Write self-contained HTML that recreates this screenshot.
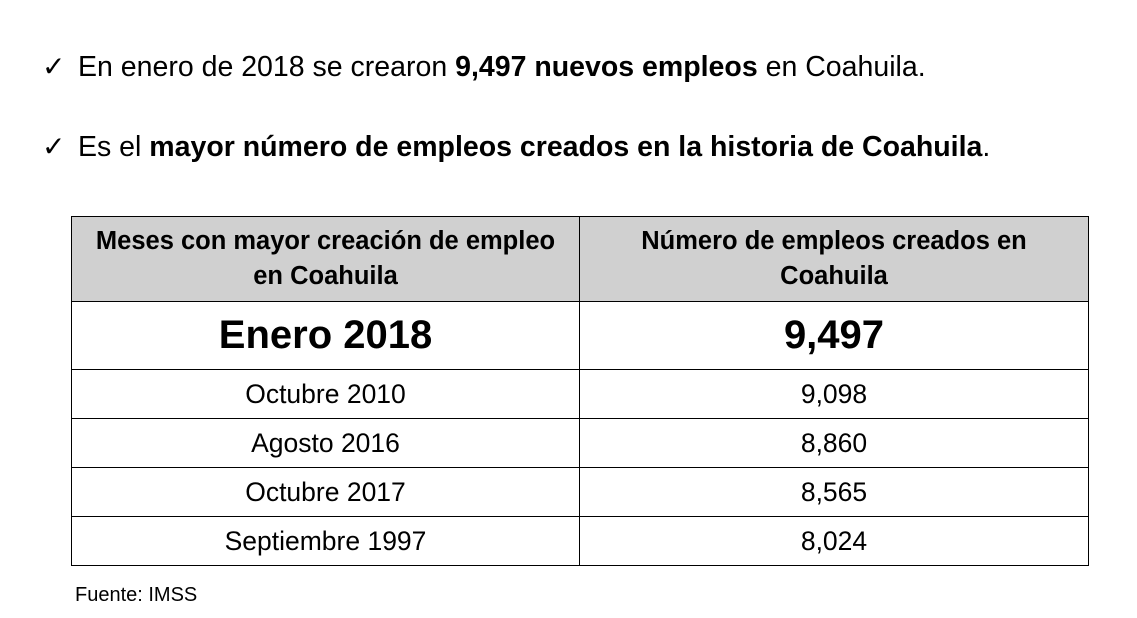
<!DOCTYPE html>
<html><head><meta charset="utf-8"><style>
body{margin:0;width:1137px;height:618px;background:#fff;font-family:"Liberation Sans",sans-serif;color:#000;position:relative;overflow:hidden}
.l{position:absolute;left:42px;font-size:28.5px;white-space:nowrap}
.l span.c{display:inline-block;width:36px;font-size:28px}
table{position:absolute;left:71px;top:216px;width:1018px;border-collapse:collapse}
td{border:1.5px solid #000;text-align:center;padding:0}
tr.h td{background:#d0d0d0;font-weight:bold;height:84px;line-height:35px;font-size:25.5px}
tr.b td{height:67px;font-weight:bold;font-size:40px}
tr.r td{height:48px;font-size:26.5px}
.f{position:absolute;left:75px;top:584px;font-size:20px}
</style></head><body>
<div class="l" style="top:50px"><span class="c">✓</span>En enero de 2018 se crearon <b>9,497 nuevos empleos</b> en Coahuila.</div>
<div class="l" style="top:130px"><span class="c">✓</span>Es el <b>mayor número de empleos creados en la historia de Coahuila</b>.</div>
<table>
<tr class="h"><td style="width:507px">Meses con mayor creación de empleo<br>en Coahuila</td><td>Número de empleos creados en<br>Coahuila</td></tr>
<tr class="b"><td>Enero 2018</td><td>9,497</td></tr>
<tr class="r"><td>Octubre 2010</td><td>9,098</td></tr>
<tr class="r"><td>Agosto 2016</td><td>8,860</td></tr>
<tr class="r"><td>Octubre 2017</td><td>8,565</td></tr>
<tr class="r"><td>Septiembre 1997</td><td>8,024</td></tr>
</table>
<div class="f">Fuente: IMSS</div>
</body></html>
